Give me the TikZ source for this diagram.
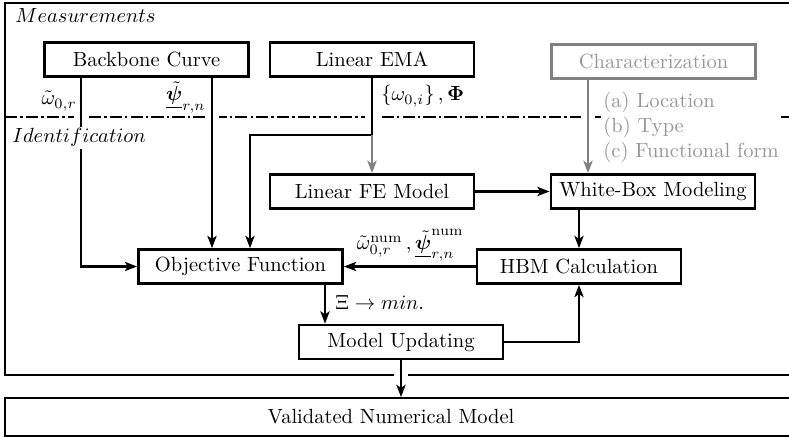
\documentclass[tikz,border=0pt]{standalone}
\usepackage{amsmath,amssymb,bm}
\usetikzlibrary{positioning,calc,arrows.meta}
\definecolor{FrameGray}{RGB}{128,128,128}
\definecolor{TextGray}{RGB}{150,150,150}
\tikzset{
  box/.style={draw=black,line width=1.3pt,minimum width=99.5pt,minimum height=16.6pt,inner sep=2pt},
  grbox/.style={box,draw=FrameGray,text=TextGray},
  conn/.style={draw=black,line width=1.3pt,-{Stealth[length=6pt,width=4.5pt,inset=1.5pt]}},
  grconn/.style={conn,draw=FrameGray},
  cut/.style={preaction={draw=white,line width=7pt,-}},
  lab/.style={inner sep=0pt},
}

\begin{document}
\begin{tikzpicture}[x=0.4875pt,y=-0.4875pt]
\useasboundingbox (0,0) rectangle (789,437);
% frame, separation line and result box (open to the right)
\draw[line width=1.3pt] (850,3) -| (5,375) -- (850,375);
\draw[line width=1.3pt,dash pattern=on 6pt off 1.5pt on 1.2pt off 1.5pt] (5,117) -- (850,117);
\draw[line width=1.3pt] (850,398) -| (5,436) -- (850,436);
\node[lab,anchor=base west] (meas) at (15,23) {$Measurements$};
% blocks
\node[box] (bb) at (146.5,59.5) {Backbone Curve};
\node[box] (ema) at (372,59.5) {Linear EMA};
\node[grbox] (char) at (653.5,61.5) {Characterization};
\node[box] (lfe) at (372,191.5) {Linear FE Model};
\node[box] (wbm) at (653,191.5) {White-Box Modeling};
\node[box] (hbm) at (579,266.5) {HBM Calculation};
\node[box] (of) at (240.5,266.5) {Objective Function};
\node[box] (mu) at (401,342) {Model Updating};
\node[lab,minimum height=19pt] (val) at (391,417) {Validated Numerical Model};
% connectors
\coordinate (splt) at (ema.south |- 0,135);
\draw[conn,cut] (bb.south -| 81,0) |- (of.west);
\draw[conn,cut] (bb.south -| 212,0) -- (of.north -| 212,0);
\draw[conn,cut] (ema.south) -- (splt) -| (of.north -| 250,0);
\draw[grconn] (splt) -- (lfe.north);
\draw[grconn,cut] (char.south -| 588,0) -- (wbm.north -| 588,0);
\draw[conn] (lfe) -- (wbm);
\draw[conn] (wbm.south -| hbm.north) -- (hbm.north);
\draw[conn] (hbm) -- (of);
\draw[conn] (of.south -| 325,0) -- (mu.north -| 325,0);
\draw[conn] (mu.east) -| (hbm.south);
\draw[conn,cut] (mu.south) -- (val.north -| mu.south);
% labels
\node[lab,anchor=base east] (wr) at (77,105) {$\tilde{\omega}_{0,r}$};
\node[lab,anchor=base east] (psi) at (206,101) {$\underline{\tilde{\bm{\psi}}}_{r,n}$};
\node[lab,anchor=base west] (modal) at (381,101) {$\left\{\omega_{0,i}\right\},\bm{\Phi}$};
\node[lab,anchor=south east] (numlab) at (464,262) {$\tilde{\omega}_{0,r}^{\text{num}}\,,\underline{\tilde{\bm{\psi}}}_{r,n}^{\text{num}}$};
\node[lab,anchor=base west] (xi) at (335,309) {$\Xi\rightarrow min.$};
\node[lab,anchor=north west,fill=white,text=TextGray,align=left,inner sep=1pt] (props) at (601,90) {(a) Location\\(b) Type\\(c) Functional form};
\node[lab,anchor=base west,fill=white,inner sep=1pt] (ident) at (10,143) {$Identification$};
\end{tikzpicture}
\end{document}
